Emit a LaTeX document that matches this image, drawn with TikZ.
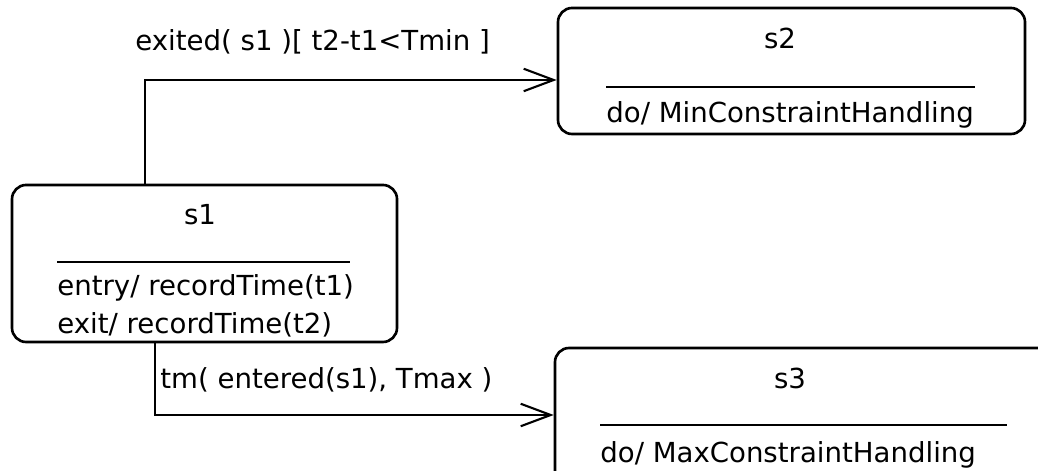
\documentclass[tikz,border=0pt]{standalone}
\usepackage{fontspec}
\setmainfont{DejaVu Sans}
\usetikzlibrary{arrows.meta}
\tikzset{
    state/.style={draw, line width=1.5pt, rounded corners=8pt},
    txt/.style={inner sep=0pt, font=\fontsize{15.7}{18}\selectfont},
    trans/.style={line width=1.5pt, -{Straight Barb[length=6mm,width=4.5mm,line width=1.2pt]}}
}
\begin{document}
\begin{tikzpicture}
    \useasboundingbox (0,0) rectangle (20.76,9.42);
    \clip (0,0) rectangle (20.76,9.42);
    % states
    \node[state, minimum width=7.7cm, minimum height=3.14cm] (s1) at (4.09,4.15) {};
    \node[state, minimum width=9.34cm, minimum height=2.52cm] (s2) at (15.83,8.0) {};
    \node[state, minimum width=10.1cm, minimum height=3.04cm] (s3) at (16.15,0.94) {};
    % names and compartments
    \node[txt] (n1) at (4.0,5.12) {s1};
    \draw[line width=1.5pt] (1.14,4.18) -- (7.0,4.18);
    \node[txt, anchor=west] (en1) at (1.14,3.66) {entry/ recordTime(t1)};
    \node[txt, anchor=west] (ex1) at (1.14,2.92) {exit/ recordTime(t2)};
    \node[txt] (n2) at (15.6,8.66) {s2};
    \draw[line width=1.5pt] (12.12,7.68) -- (19.5,7.68);
    \node[txt, anchor=west] (do2) at (12.12,7.12) {do/ MinConstraintHandling};
    \node[txt] (n3) at (15.8,1.86) {s3};
    \draw[line width=1.5pt] (12.0,0.92) -- (20.14,0.92);
    \node[txt, anchor=west] (do3) at (12.0,0.32) {do/ MaxConstraintHandling};
    % transitions
    \coordinate (k1) at (2.9,7.82);
    \coordinate (k2) at (3.1,1.12);
    \draw[trans] (s1.north -| k1) |- (k1 -| s2.west);
    \draw[trans] (s1.south -| k2) |- (k2 -| s3.west);
    \node[txt, anchor=west] (g1) at (2.7,8.58) {exited( s1 )[ t2-t1<Tmin ]};
    \node[txt, anchor=west] (g2) at (3.2,1.82) {tm( entered(s1), Tmax )};
\end{tikzpicture}
\end{document}
